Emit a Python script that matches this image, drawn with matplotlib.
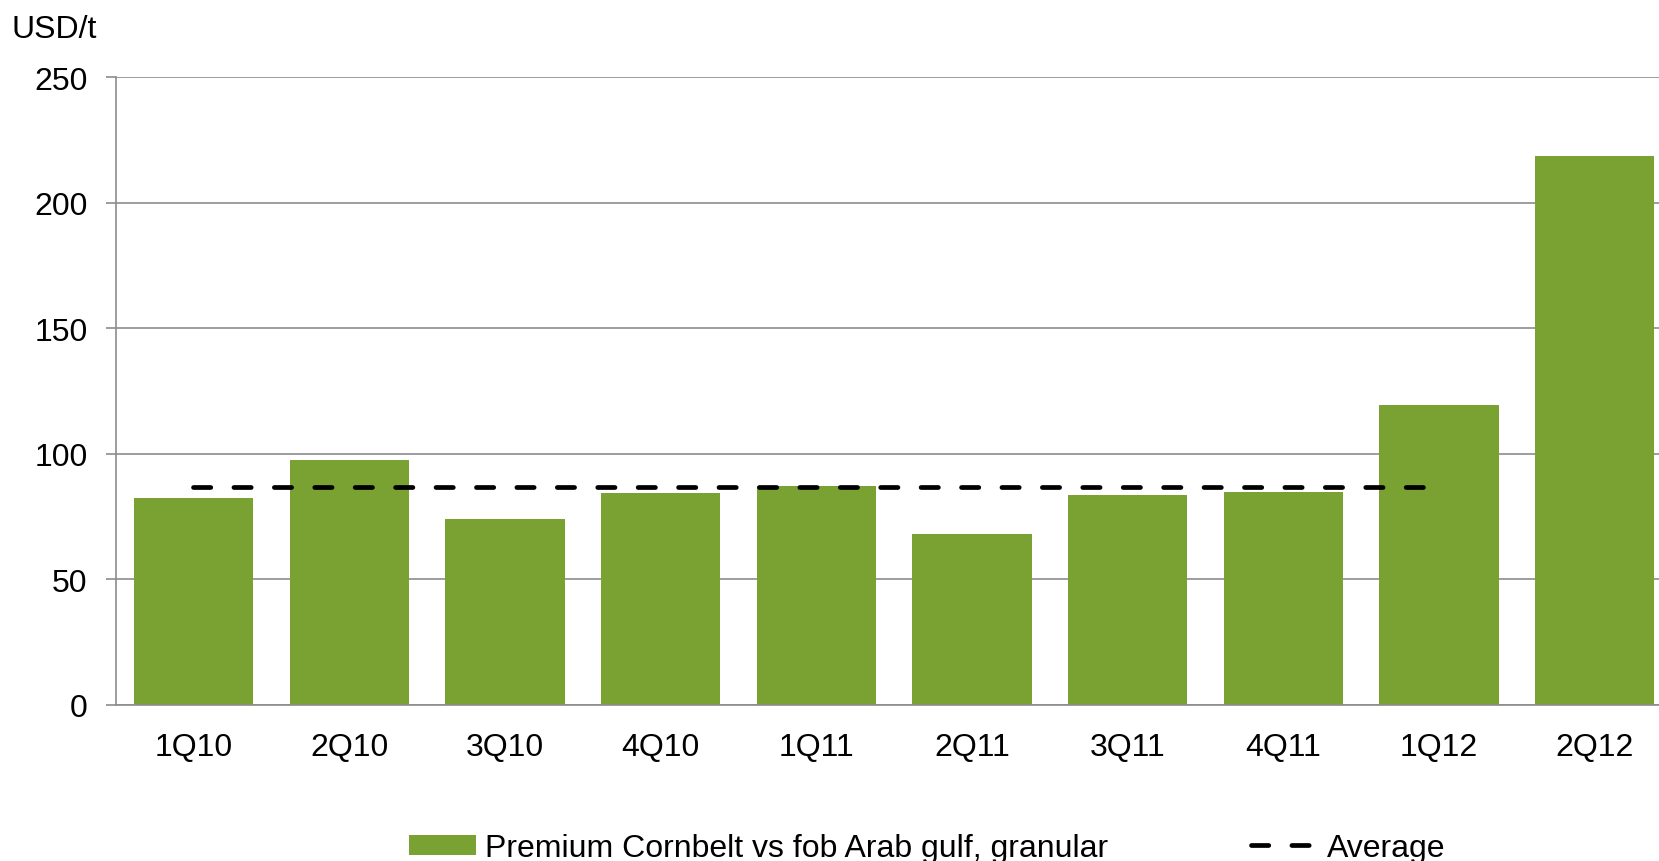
import matplotlib
matplotlib.use('Agg')
import matplotlib.pyplot as plt
from matplotlib.patches import Patch
from matplotlib.lines import Line2D

plt.rcParams['font.family'] = ['Liberation Sans', 'DejaVu Sans']

quarters = ["1Q10", "2Q10", "3Q10", "4Q10", "1Q11", "2Q11", "3Q11", "4Q11", "1Q12", "2Q12"]
premium = [82.2, 97.3, 73.9, 84.4, 87.1, 67.9, 83.6, 84.8, 119.4, 218.4]
average_value = 86.7
average_span = ["1Q10", "1Q12"]  # dashed line runs from first to this quarter

bar_color = "#79A232"
grid_color = "#8C8C8C"
fs = 23
avg_style = dict(color="black", lw=3.4, linestyle=(0, (3.66, 4.9)),
                 dash_capstyle="round")

fig = plt.figure(figsize=(16.59, 8.62), dpi=100)
# the plot area runs past the right edge of the picture, like the source
ax = fig.add_axes([0.0697, 0.1813, 0.9385, 0.7282])

x = list(range(len(quarters)))
ax.bar(x, premium, width=0.766, color=bar_color, zorder=2)

i0 = quarters.index(average_span[0])
i1 = quarters.index(average_span[1])
ax.plot([i0, i1], [average_value, average_value], zorder=3, **avg_style)

ax.set_xlim(-0.5, len(quarters) - 0.5)
ax.set_ylim(0, 250)
ax.set_yticks([0, 50, 100, 150, 200, 250])
ax.set_xticks(x)
ax.set_xticklabels(quarters)

ax.yaxis.grid(True, color=grid_color, linewidth=1.2, zorder=0)
ax.set_axisbelow(True)
for side in ["top", "right"]:
    ax.spines[side].set_visible(False)
for side in ["left", "bottom"]:
    ax.spines[side].set_color(grid_color)
    ax.spines[side].set_linewidth(1.2)

ax.tick_params(axis="y", direction="out", length=7.2, width=1.2, color=grid_color,
               pad=13, labelsize=fs)
ax.tick_params(axis="x", length=0, pad=20, labelsize=fs)

fig.text(0.007, 0.965, "USD/t", fontsize=fs, va="center", ha="left")

handles = [
    Patch(facecolor=bar_color, edgecolor="none"),
    Line2D([0], [0], **avg_style),
]
labels = ["Premium Cornbelt vs fob Arab gulf, granular", "Average"]
fig.legend(handles, labels, loc="center", bbox_to_anchor=(0.559, 0.015), ncol=2,
           frameon=False, fontsize=fs, handlelength=2.1, handleheight=0.6,
           handletextpad=0.3, columnspacing=4.45)

fig.savefig("out.png", dpi=100)
